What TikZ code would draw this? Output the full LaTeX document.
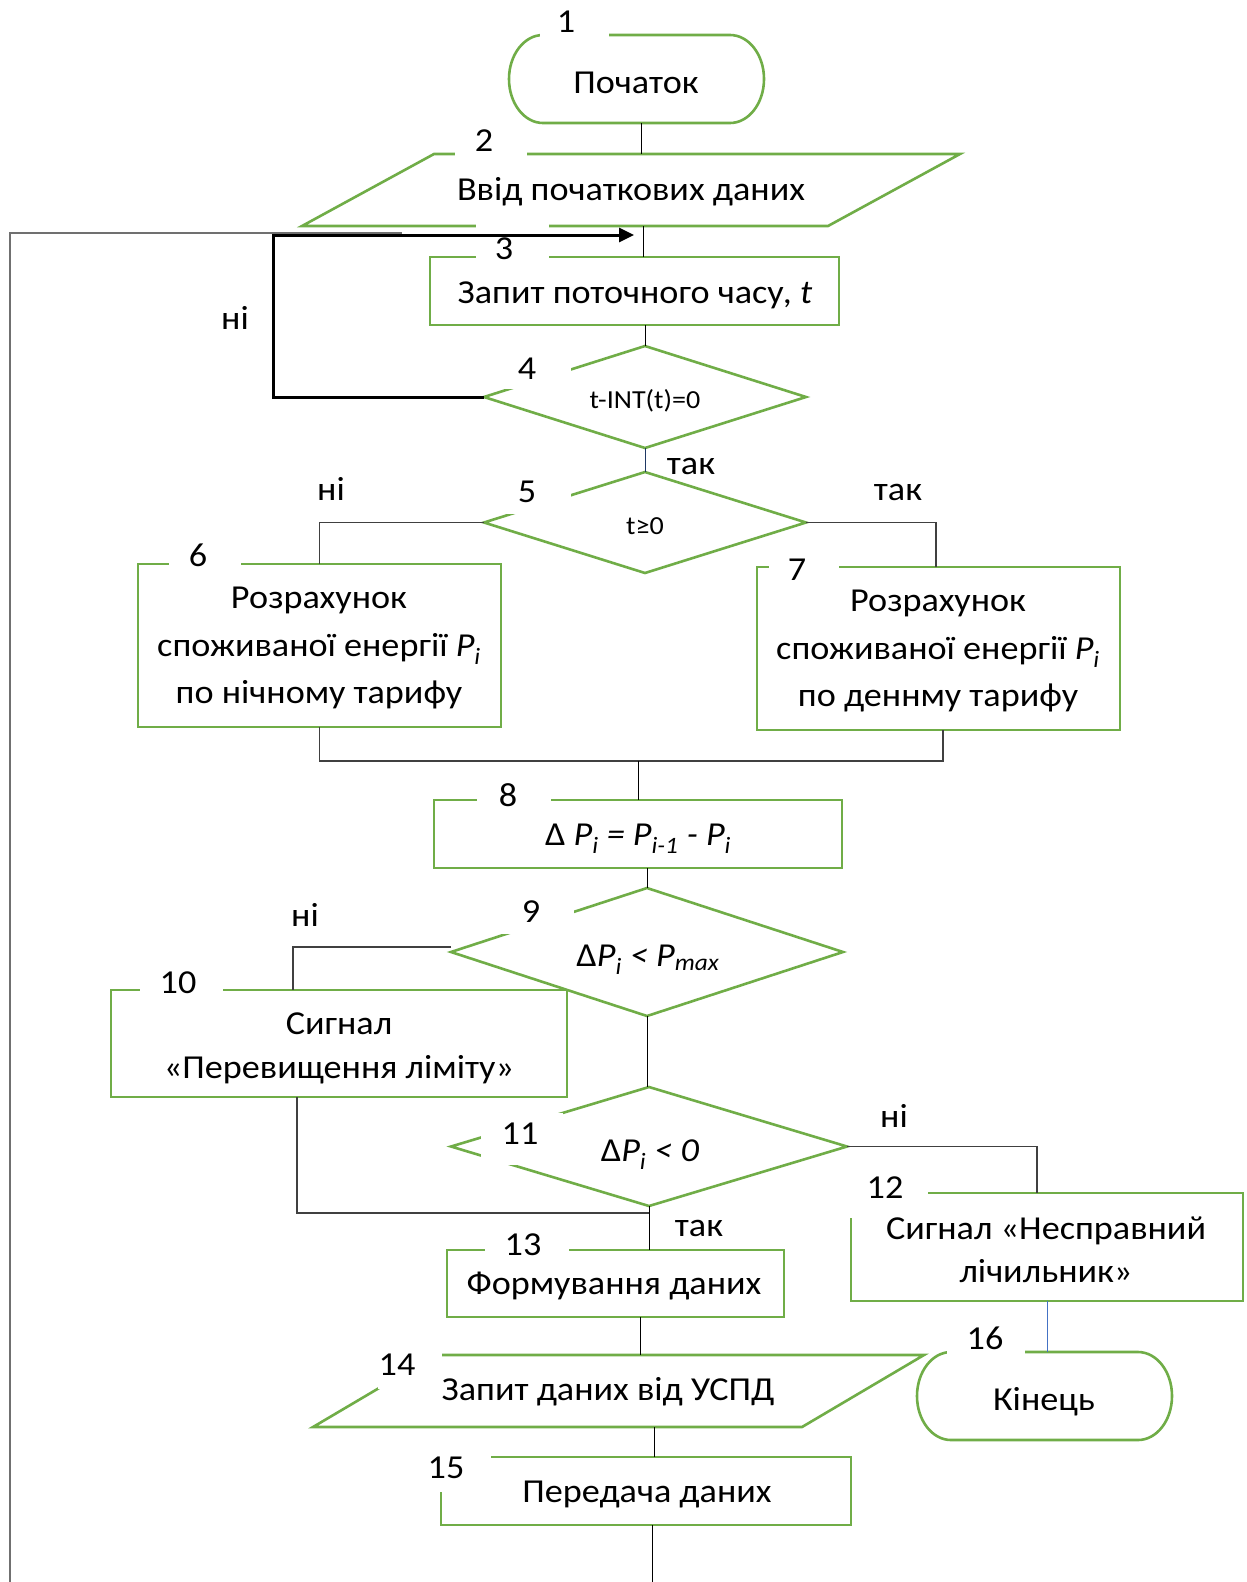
\documentclass[tikz,border=0pt]{standalone}
\usepackage{fontspec}
\setmainfont{Carlito}[FakeStretch=1.08]
\usetikzlibrary{arrows.meta}
\definecolor{grn}{HTML}{70AD47}
\definecolor{blu}{HTML}{4472C4}
\definecolor{navy}{HTML}{1F3864}
\definecolor{dgray}{HTML}{404040}
\definecolor{lgray}{HTML}{707070}
\begin{document}
\begin{tikzpicture}[x=1pt,y=-1pt,
  frame/.style={inner sep=0pt,outer sep=0pt,draw=none},
  shp/.style={draw=grn,line width=2.6pt,fill=white},
  rbox/.style={shp,inner sep=0pt,outer sep=0pt},
  txt/.style={inner sep=0pt,text height=21.4pt,text depth=0pt,font=\fontsize{33.5}{40}\selectfont},
  sml/.style={inner sep=0pt,text height=16.6pt,text depth=0pt,font=\fontsize{26}{30}\selectfont},
  num/.style={txt},
  conn/.style={draw=black,line width=1pt},
  connd/.style={draw=dgray,line width=1.6pt},
  gap/.style={fill=white}
]
\useasboundingbox (0,0) rectangle (1247,1582);
\fill[white] (0,0) rectangle (1247,1582);

% ---------- shapes ----------
\node[frame,minimum width=255pt,minimum height=88pt] (n1) at (636.5,79) {};
\draw[shp] ([xshift=34pt]n1.north west) -- ([xshift=-34pt]n1.north east)
  arc[start angle=90,end angle=-90,x radius=34pt,y radius=44pt]
  -- ([xshift=34pt]n1.south west)
  arc[start angle=270,end angle=90,x radius=34pt,y radius=44pt] -- cycle;

\node[frame,minimum width=658pt,minimum height=72pt] (n2) at (631,190) {};
\draw[shp] ([xshift=132pt]n2.north west) -- (n2.north east)
  -- ([xshift=-132pt]n2.south east) -- (n2.south west) -- cycle;

\node[rbox,minimum width=409pt,minimum height=68pt] (n3) at (634.5,291) {};

\node[frame,minimum width=322pt,minimum height=102pt] (n4) at (645,397) {};
\draw[shp] (n4.north) -- (n4.east) -- (n4.south) -- (n4.west) -- cycle;

\node[frame,minimum width=322pt,minimum height=101pt] (n5) at (645,522.5) {};
\draw[shp] (n5.north) -- (n5.east) -- (n5.south) -- (n5.west) -- cycle;

\node[rbox,minimum width=363pt,minimum height=163pt] (n6) at (319.5,645.5) {};
\node[rbox,minimum width=363pt,minimum height=163pt] (n7) at (938.5,648.5) {};
\node[rbox,minimum width=408pt,minimum height=68pt] (n8) at (638,834) {};

\node[frame,minimum width=392pt,minimum height=128pt] (n9) at (647,952) {};
\draw[shp] (n9.north) -- (n9.east) -- (n9.south) -- (n9.west) -- cycle;

\node[rbox,minimum width=456pt,minimum height=107pt] (n10) at (339,1043.5) {};

\node[frame,minimum width=396pt,minimum height=119pt] (n11) at (649,1146.5) {};
\draw[shp] (n11.north) -- (n11.east) -- (n11.south) -- (n11.west) -- cycle;

\node[rbox,minimum width=392pt,minimum height=108pt] (n12) at (1047,1247) {};
\node[rbox,minimum width=337pt,minimum height=67pt] (n13) at (615.5,1283.5) {};

\node[frame,minimum width=611pt,minimum height=72pt] (n14) at (618.5,1391) {};
\draw[shp] ([xshift=122pt]n14.north west) -- (n14.north east)
  -- ([xshift=-122pt]n14.south east) -- (n14.south west) -- cycle;

\node[rbox,minimum width=410pt,minimum height=68pt] (n15) at (646,1491) {};

\node[frame,minimum width=255pt,minimum height=88pt] (n16) at (1044.5,1396) {};
\draw[shp] ([xshift=34pt]n16.north west) -- ([xshift=-34pt]n16.north east)
  arc[start angle=90,end angle=-90,x radius=34pt,y radius=44pt]
  -- ([xshift=34pt]n16.south west)
  arc[start angle=270,end angle=90,x radius=34pt,y radius=44pt] -- cycle;

% ---------- gaps under the number labels ----------
\fill[gap] (540,6) rectangle (609,40);
\fill[gap] (455,128) rectangle (527,160);
\fill[gap] (476,220) rectangle (549,262);
\fill[gap] (497,350) rectangle (571,389);
\fill[gap] (497,475) rectangle (571,514);
\fill[gap] (169,540) rectangle (241,572);
\fill[gap] (769,550) rectangle (839,575);
\fill[gap] (477,780) rectangle (551,806);
\fill[gap] (501,890) rectangle (574,934);
\fill[gap] (140,965) rectangle (223,998);
\fill[gap] (481,1113) rectangle (563,1165);
\fill[gap] (846,1160) rectangle (928,1218);
\fill[gap] (485,1230) rectangle (569,1256);
\fill[gap] (378,1340) rectangle (442,1389);
\fill[gap] (432,1445) rectangle (491,1492);
\fill[gap] (947,1322) rectangle (1025,1358);

% ---------- connectors ----------
\coordinate (o1) at (10,1582);
\coordinate (o2) at (10,233);
\coordinate (o3) at (402,233);
\draw[draw=lgray,line width=1.6pt] (o1) -- (o2) -- (o3);

\draw[conn] ([xshift=4.5pt]n1.south) -- ([xshift=4.5pt]n1.south |- n2.north);
\draw[conn] ([xshift=12pt]n2.south) -- ([xshift=12pt]n2.south |- n3.north);
\draw[conn] (n3.south -| n4.north) -- (n4.north);

\coordinate (lp) at (273,235);
\coordinate (ar) at (634,235);
\draw[draw=black,line width=3pt,-{Triangle[length=15pt,width=14pt]}] (n4.west) -| (lp) -- (ar);

\draw[draw=navy,line width=1pt] (n4.south) -- (n5.north);
\draw[connd] (n5.west) -| (n6.north);
\draw[connd] (n5.east) -| ([xshift=-2.5pt]n7.north);

\coordinate (j8) at (638,761);
\draw[connd] (n6.south) |- (j8);
\draw[connd] ([xshift=4.5pt]n7.south) |- (j8);
\draw[conn] (j8) -- (n8.north);

\draw[conn] ([xshift=9pt]n8.south) -- ([xshift=9pt]n8.south |- n9.north);
\draw[connd] ([yshift=5pt]n9.west) -| ([xshift=-46pt]n10.north);
\draw[conn] (n9.south) -- (n9.south |- n11.north);

\draw[connd] (n11.east) -| ([xshift=-10pt]n12.north);
\coordinate (j13) at (649,1213);
\draw[connd] ([xshift=-42pt]n10.south) |- (j13);
\draw[conn] (n11.south) -- (n11.south |- n13.north);

\draw[draw=blu,line width=1pt] (n12.south) -- (n12.south |- n16.north);

\draw[conn] ([xshift=24.5pt]n13.south) -- ([xshift=24.5pt]n13.south |- n14.north);
\draw[conn] ([xshift=35.5pt]n14.south) -- ([xshift=35.5pt]n14.south |- n15.north);
\coordinate (bot) at (652,1582);
\draw[conn] ([xshift=6pt]n15.south) -- (bot);

% ---------- texts ----------
\node[txt] (t1) at (636,83) {Початок};
\node[txt] (t2) at (631,190) {Ввід початкових даних};
\node[txt] (t3) at (635,293) {Запит поточного часу, \textit{t}};
\node[sml] (t4) at (645,400) {t-INT(t)=0};
\node[sml] (t5) at (645,526) {t≥0};
\node[txt] (t6a) at (319,598) {Розрахунок};
\node[txt] (t6b) at (319,646) {споживаної енергії \textit{P}\textsubscript{\textit{i}}};
\node[txt] (t6c) at (319,693) {по нічному тарифу};
\node[txt] (t7a) at (938,601) {Розрахунок};
\node[txt] (t7b) at (938,649) {споживаної енергії \textit{P}\textsubscript{\textit{i}}};
\node[txt] (t7c) at (938,696) {по деннму тарифу};
\node[txt] (t8) at (638,835) {Δ \textit{P}\textsubscript{\textit{i}} \textit{= P}\textsubscript{\textit{i-1}} \textit{- P}\textsubscript{\textit{i}}};
\node[txt] (t9) at (648,956) {Δ\textit{P}\textsubscript{\textit{i}} \textit{< P}\textsubscript{\textit{max}}};
\node[txt] (t10a) at (339,1024) {Сигнал};
\node[txt] (t10b) at (339,1068) {«Перевищення ліміту»};
\node[txt] (t11) at (650,1151) {Δ\textit{P}\textsubscript{\textit{i}} \textit{< 0}};
\node[txt] (t12a) at (1046,1229) {Сигнал «Несправний};
\node[txt] (t12b) at (1046,1272) {лічильник»};
\node[txt] (t13) at (614,1284) {Формування даних};
\node[txt] (t14) at (608,1390) {Запит даних від УСПД};
\node[txt] (t15) at (647,1492) {Передача даних};
\node[txt] (t16) at (1044,1400) {Кінець};

% branch labels
\node[txt] (b4n) at (235,319) {ні};
\node[txt] (b4y) at (691,464) {так};
\node[txt] (b5n) at (331,490) {ні};
\node[txt] (b5y) at (898,490) {так};
\node[txt] (b9n) at (305,916) {ні};
\node[txt] (b11n) at (894,1117) {ні};
\node[txt] (b11y) at (699,1226) {так};

% numbers
\node[num] (l1) at (566,22) {1};
\node[num] (l2) at (484,141) {2};
\node[num] (l3) at (504,249) {3};
\node[num] (l4) at (527,369) {4};
\node[num] (l5) at (527,492) {5};
\node[num] (l6) at (198,556) {6};
\node[num] (l7) at (797,570) {7};
\node[num] (l8) at (508,796) {8};
\node[num] (l9) at (531,912) {9};
\node[num] (l10) at (178,983) {10};
\node[num] (l11) at (520,1134) {11};
\node[num] (l12) at (885,1188) {12};
\node[num] (l13) at (523,1245) {13};
\node[num] (l14) at (397,1365) {14};
\node[num] (l15) at (446,1468) {15};
\node[num] (l16) at (985,1339) {16};
\end{tikzpicture}
\end{document}
